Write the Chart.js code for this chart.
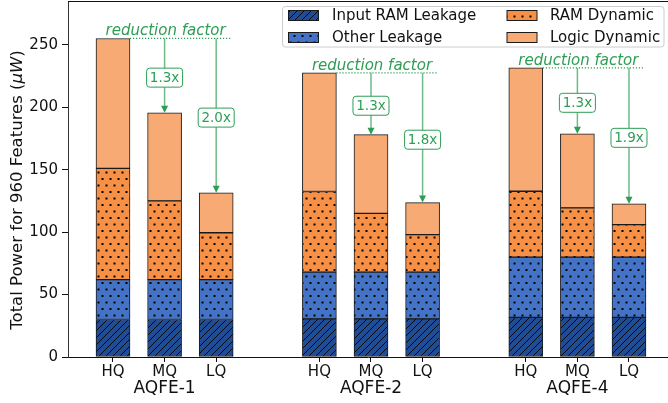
<!DOCTYPE html>
<html lang="en">
<head>
<meta charset="UTF-8" />
<title>AQFE power breakdown</title>
<script src="https://cdn.jsdelivr.net/npm/chart.js"></script>
<style>
    body { margin: 0; background: #fff; }
    #wrap { width: 668px; height: 403px; }
</style>
</head>
<body>
<div id="wrap"><canvas id="powerChart" width="668" height="403"></canvas></div>
<script>
    // bar slots on a linear x axis, with an empty slot between groups
    const positions = [0, 1, 2, 4, 5, 6, 8, 9, 10];
    const qualities = ["HQ", "MQ", "LQ", "HQ", "MQ", "LQ", "HQ", "MQ", "LQ"];
    const groups = ["AQFE-1", "AQFE-2", "AQFE-4"];

    // stacked segments, in uW
    const inputRamLeakage = [30, 30, 30, 30.5, 30.5, 30.5, 31.7, 31.7, 31.7];
    const otherLeakage = [32, 32, 32, 37.5, 37.5, 37.5, 48.3, 48.3, 48.3];
    const ramDynamic = [89, 63, 37.5, 64.5, 47, 30, 52.7, 39.4, 26];
    const logicDynamic = [104, 70.5, 32, 95, 63, 25.6, 98.8, 59.3, 16.6];

    // reduction factor vs HQ, for MQ and LQ of each group
    const reductionFactors = ["1.3x", "2.0x", "1.3x", "1.8x", "1.3x", "1.9x"];

    const yTicks = [0, 50, 100, 150, 200, 250];

    const FONT = "'DejaVu Sans', sans-serif";
    const GREEN = "#2e9e55";

    function hatchPattern(bg) {
        const c = document.createElement("canvas");
        c.width = 7; c.height = 7;
        const g = c.getContext("2d");
        g.fillStyle = bg;
        g.fillRect(0, 0, 7, 7);
        g.strokeStyle = "#000";
        g.lineWidth = 0.9;
        g.beginPath();
        g.moveTo(-1, 8); g.lineTo(8, -1);
        g.moveTo(-1, 1); g.lineTo(1, -1);
        g.moveTo(6, 8); g.lineTo(8, 6);
        g.stroke();
        return g.createPattern(c, "repeat");
    }

    function dotPattern(bg) {
        const c = document.createElement("canvas");
        c.width = 8; c.height = 13;
        const g = c.getContext("2d");
        g.fillStyle = bg;
        g.fillRect(0, 0, 8, 13);
        g.fillStyle = "#000";
        g.fillRect(1.5, 2.5, 2, 2);
        g.fillRect(5.5, 9, 2, 2);
        return g.createPattern(c, "repeat");
    }

    const fills = [
        hatchPattern("#1f4c97"),
        dotPattern("#4472c4"),
        dotPattern("#f79047"),
        "#f8aa74"
    ];
    const labels = ["Input RAM Leakage", "Other Leakage", "RAM Dynamic", "Logic Dynamic"];
    const series = [inputRamLeakage, otherLeakage, ramDynamic, logicDynamic];

    const datasets = series.map((vals, i) => ({
        label: labels[i],
        data: vals.map((v, j) => ({ x: positions[j], y: v })),
        backgroundColor: fills[i],
        borderColor: "#1a1a1a",
        borderWidth: 1,
        borderSkipped: false,
        barThickness: 34
    }));

    function roundBox(ctx, x, y, w, h, r) {
        ctx.beginPath();
        ctx.moveTo(x + r, y);
        ctx.arcTo(x + w, y, x + w, y + h, r);
        ctx.arcTo(x + w, y + h, x, y + h, r);
        ctx.arcTo(x, y + h, x, y, r);
        ctx.arcTo(x, y, x + w, y, r);
        ctx.closePath();
    }

    // y title pieces: the unit is set in italic like the reference
    const yTitleParts = [
        ["Total Power for 960 Features (", false],
        ["\u03bcW", true],
        [")", false]
    ];

    const extras = {
        id: "extras",
        afterDraw(chart) {
            const ctx = chart.ctx;
            const area = chart.chartArea;
            const xs = chart.scales.x;
            const top = chart.getDatasetMeta(3).data;

            ctx.save();
            // top spine
            ctx.strokeStyle = "#111";
            ctx.lineWidth = 1;
            ctx.beginPath();
            ctx.moveTo(area.left, area.top + 0.5);
            ctx.lineTo(area.right, area.top + 0.5);
            ctx.stroke();

            // y axis title
            ctx.save();
            ctx.translate(18, 190);
            ctx.rotate(-Math.PI / 2);
            ctx.fillStyle = "#111";
            ctx.textAlign = "left";
            ctx.textBaseline = "middle";
            const fontOf = it => (it ? "italic " : "") + "16.5px " + FONT;
            let total = 0;
            yTitleParts.forEach(([t, it]) => { ctx.font = fontOf(it); total += ctx.measureText(t).width; });
            let px = -total / 2;
            yTitleParts.forEach(([t, it]) => {
                ctx.font = fontOf(it);
                ctx.fillText(t, px, 0);
                px += ctx.measureText(t).width;
            });
            ctx.restore();

            // group names under the tick labels
            ctx.fillStyle = "#111";
            ctx.font = "17px " + FONT;
            ctx.textAlign = "center";
            ctx.textBaseline = "middle";
            groups.forEach((name, g) => {
                ctx.fillText(name, xs.getPixelForValue(positions[g * 3 + 1]), 389);
            });

            // reduction factor annotations
            groups.forEach((name, g) => {
                const hq = top[g * 3], mq = top[g * 3 + 1], lq = top[g * 3 + 2];
                const y0 = hq.y;
                ctx.strokeStyle = GREEN;
                ctx.lineWidth = 1.2;
                ctx.setLineDash([1.2, 1.8]);
                ctx.beginPath();
                ctx.moveTo(hq.x + hq.width / 2, y0);
                ctx.lineTo(lq.x + 15, y0);
                ctx.stroke();
                ctx.setLineDash([]);

                ctx.fillStyle = GREEN;
                ctx.font = "italic 15px " + FONT;
                ctx.textAlign = "center";
                ctx.textBaseline = "alphabetic";
                ctx.fillText("reduction factor", mq.x + 1, y0 - 3);

                [mq, lq].forEach((bar, k) => {
                    ctx.strokeStyle = "rgba(46,158,85,0.7)";
                    ctx.lineWidth = 1.5;
                    ctx.beginPath();
                    ctx.moveTo(bar.x, y0);
                    ctx.lineTo(bar.x, bar.y - 5);
                    ctx.stroke();
                    ctx.fillStyle = GREEN;
                    ctx.beginPath();
                    ctx.moveTo(bar.x, bar.y);
                    ctx.lineTo(bar.x - 3.5, bar.y - 7);
                    ctx.lineTo(bar.x + 3.5, bar.y - 7);
                    ctx.closePath();
                    ctx.fill();

                    const cy = (y0 + bar.y) / 2 + 2;
                    roundBox(ctx, bar.x - 18, cy - 9.5, 36, 19, 3);
                    ctx.fillStyle = "#fff";
                    ctx.fill();
                    ctx.strokeStyle = GREEN;
                    ctx.lineWidth = 1;
                    ctx.stroke();
                    ctx.fillStyle = GREEN;
                    ctx.font = "13.5px " + FONT;
                    ctx.textBaseline = "middle";
                    ctx.fillText(reductionFactors[g * 2 + k], bar.x, cy + 0.5);
                });
            });

            // legend, two columns
            roundBox(ctx, 282.5, 6.5, 381.5, 40.5, 3);
            ctx.fillStyle = "rgba(255,255,255,0.85)";
            ctx.fill();
            ctx.strokeStyle = "#cccccc";
            ctx.lineWidth = 1;
            ctx.stroke();
            const cols = [[288.5, 332], [507, 550]];
            const rows = [15.5, 37.5];
            labels.forEach((lab, i) => {
                const c = cols[Math.floor(i / 2)], r = rows[i % 2];
                ctx.fillStyle = fills[i];
                ctx.fillRect(c[0], r - 5, 30, 10);
                ctx.strokeStyle = "#1a1a1a";
                ctx.strokeRect(c[0], r - 5, 30, 10);
                ctx.fillStyle = "#111";
                ctx.font = "15px " + FONT;
                ctx.textAlign = "left";
                ctx.textBaseline = "middle";
                ctx.fillText(lab, c[1], r + 0.5);
            });
            ctx.restore();
        }
    };

    new Chart(document.getElementById("powerChart"), {
        type: "bar",
        data: { datasets: datasets },
        options: {
            responsive: false,
            animation: false,
            layout: { padding: { top: 1, right: 0, left: 0, bottom: 0 } },
            plugins: { legend: { display: false }, tooltip: { enabled: false } },
            scales: {
                x: {
                    type: "linear",
                    stacked: true,
                    offset: false,
                    min: -0.872,
                    max: 10.756,
                    afterBuildTicks: s => { s.ticks = positions.map(v => ({ value: v })); },
                    afterFit: s => { s.height = 46; s.paddingLeft = 0; s.paddingRight = 0; },
                    ticks: {
                        color: "#111",
                        font: { family: FONT, size: 15 },
                        padding: 1,
                        maxRotation: 0,
                        autoSkip: false,
                        callback: v => qualities[positions.indexOf(v)]
                    },
                    grid: { offset: false, drawOnChartArea: false, tickLength: 5, color: "#111" },
                    border: { color: "#111", width: 1 }
                },
                y: {
                    stacked: true,
                    min: 0,
                    max: 285,
                    afterBuildTicks: s => { s.ticks = yTicks.map(v => ({ value: v })); },
                    afterFit: s => { s.width = 68; s.paddingTop = 0; s.paddingBottom = 0; },
                    ticks: {
                        color: "#111",
                        font: { family: FONT, size: 15 },
                        padding: 4
                    },
                    grid: { drawOnChartArea: false, tickLength: 6, color: "#111" },
                    border: { color: "#333", width: 1 }
                }
            }
        },
        plugins: [extras]
    });
</script>
</body>
</html>
